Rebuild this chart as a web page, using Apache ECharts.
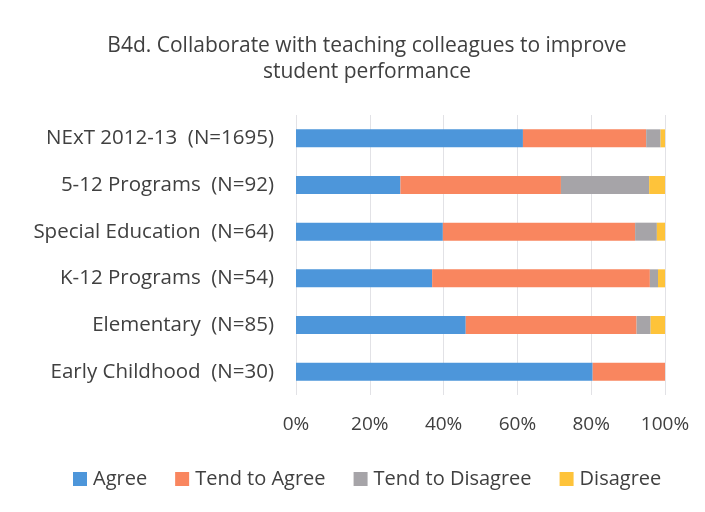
<!DOCTYPE html>
<html>
<head>
<meta charset="utf-8">
<script src="https://cdn.jsdelivr.net/npm/echarts@6/dist/echarts.min.js"></script>
<style>
  html, body { margin: 0; padding: 0; background: #fff; }
  #chart { width: 705px; height: 512px; }
</style>
</head>
<body>
<div id="chart"></div>
<script>
// categories listed bottom to top (category axis starts at the bottom)
var categories = [
  'Early Childhood  (N=30)',
  'Elementary  (N=85)',
  'K-12 Programs  (N=54)',
  'Special Education  (N=64)',
  '5-12 Programs  (N=92)',
  'NExT 2012-13  (N=1695)'
];
var agree          = [80.4, 46.0, 36.9, 39.8, 28.3, 61.5];
var tendAgree      = [19.6, 46.3, 59.0, 52.1, 43.5, 33.4];
var tendDisagree   = [0,    3.8,  2.2,  5.9,  23.9, 3.9];
var disagree       = [0,    3.9,  1.9,  2.2,  4.3,  1.2];
var seriesNames = ['Agree', 'Tend to Agree', 'Tend to Disagree', 'Disagree'];
var seriesColors = ['#4d96da', '#f9865f', '#a6a4a8', '#fec33a'];
var tickLabels = ['0%', '20%', '40%', '60%', '80%', '100%'];

var font = 'Open Sans, sans-serif';
var seriesData = [agree, tendAgree, tendDisagree, disagree];

var chart = echarts.init(document.getElementById('chart'));
chart.setOption({
  animation: false,
  title: {
    text: 'B4d. Collaborate with teaching colleagues to improve\nstudent performance',
    left: 362,
    textAlign: 'center',
    top: 28,
    textStyle: { fontFamily: font, fontSize: 21, fontWeight: 'normal', color: '#404040', lineHeight: 26 }
  },
  legend: {
    top: 464,
    left: 68,
    itemWidth: 14,
    itemHeight: 14,
    itemGap: 28,
    icon: 'rect',
    data: seriesNames,
    textStyle: { fontFamily: font, fontSize: 20, color: '#404040', padding: [0, 0, 0, 1] }
  },
  grid: { left: 296, right: 40, top: 115, height: 280, containLabel: false },
  xAxis: {
    type: 'value',
    min: 0,
    max: 100,
    interval: 20,
    axisLine: { show: false },
    axisTick: { show: false },
    splitLine: { lineStyle: { color: '#e2e2e6', width: 1 } },
    axisLabel: {
      fontFamily: font,
      fontSize: 19,
      color: '#404040',
      margin: 20,
      formatter: function (v) { return tickLabels[v / 20]; }
    }
  },
  yAxis: {
    type: 'category',
    data: categories,
    axisLine: { show: false },
    axisTick: { show: false },
    axisLabel: { fontFamily: font, fontSize: 20.5, color: '#404040', margin: 22 }
  },
  series: seriesNames.map(function (name, i) {
    return {
      name: name,
      type: 'bar',
      stack: 'total',
      barWidth: 18,
      itemStyle: { color: seriesColors[i] },
      data: seriesData[i]
    };
  })
});
</script>
</body>
</html>
